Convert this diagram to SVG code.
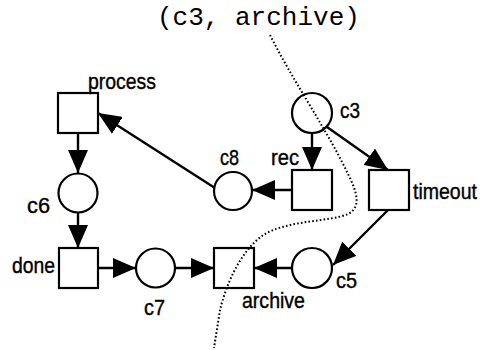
<svg xmlns="http://www.w3.org/2000/svg" width="489" height="350" viewBox="0 0 489 350">
<style>
.n{fill:#fff;stroke:#000;stroke-width:2.2}
.e{stroke:#000;stroke-width:2.4;fill:none;marker-end:url(#ah)}
.t{font-family:"Liberation Sans",Arial,sans-serif;font-size:22.5px;fill:#000;stroke:#000;stroke-width:0.4}
.m{font-family:"Liberation Mono","Courier New",monospace;font-size:26px;fill:#000}
.cut{fill:none;stroke:#000;stroke-width:2;stroke-dasharray:1.6 2.2}
</style>
<defs>
<marker id="ah" viewBox="0 0 23 20" refX="23" refY="10" markerWidth="23" markerHeight="20" markerUnits="userSpaceOnUse" orient="auto">
<path d="M0,0 L23,10 L0,20 z" fill="#000"/>
</marker>
</defs>
<rect width="489" height="350" fill="#fff"/>
<text class="m" x="157" y="25">(c3, archive)</text>
<g id="connectors">
<path class="e" d="M78,133 L78,173"/>
<path class="e" d="M78,212 L78,248"/>
<path class="e" d="M98,268 L136,268"/>
<path class="e" d="M175,268 L214,268"/>
<path class="e" d="M292,268 L254,268"/>
<path class="e" d="M215,188 L98,113"/>
<path class="e" d="M292,190 L252,190"/>
<path class="e" d="M312,134 L312,170"/>
<path class="e" d="M327,127 L388,170"/>
<path class="e" d="M388,210 L333,265"/>
</g>
<g id="process"><rect class="n" x="58" y="93" width="40" height="40"/><text class="t" x="88" y="89" textLength="68" lengthAdjust="spacingAndGlyphs">process</text></g>
<g id="c6"><circle class="n" cx="78" cy="193" r="19.5"/><text class="t" x="27" y="213" textLength="23" lengthAdjust="spacingAndGlyphs">c6</text></g>
<g id="done"><rect class="n" x="59" y="248" width="39" height="40"/><text class="t" x="12" y="273" textLength="43" lengthAdjust="spacingAndGlyphs">done</text></g>
<g id="c7"><circle class="n" cx="155.5" cy="268" r="19.5"/><text class="t" x="144" y="315" textLength="21" lengthAdjust="spacingAndGlyphs">c7</text></g>
<g id="archive"><rect class="n" x="214" y="248" width="40" height="40"/><text class="t" x="242" y="308" textLength="63" lengthAdjust="spacingAndGlyphs">archive</text></g>
<g id="c5"><circle class="n" cx="312" cy="268" r="20"/><text class="t" x="336" y="288" textLength="21" lengthAdjust="spacingAndGlyphs">c5</text></g>
<g id="c8"><circle class="n" cx="233" cy="191" r="19"/><text class="t" x="220" y="165" textLength="19" lengthAdjust="spacingAndGlyphs">c8</text></g>
<g id="rec"><rect class="n" x="292" y="170" width="40" height="40"/><text class="t" x="271" y="165" textLength="28" lengthAdjust="spacingAndGlyphs">rec</text></g>
<g id="c3"><circle class="n" cx="312" cy="113" r="20"/><text class="t" x="340" y="118" textLength="20" lengthAdjust="spacingAndGlyphs">c3</text></g>
<g id="timeout"><rect class="n" x="369" y="170" width="40" height="40"/><text class="t" x="413" y="199" textLength="64" lengthAdjust="spacingAndGlyphs">timeout</text></g>
<path class="cut" d="M270,35 C290,75 320,120 340,158 C352,182 366,205 348,214 C330,222 285,220 262,236 C240,252 226,285 220,310 L214,348"/>
</svg>
